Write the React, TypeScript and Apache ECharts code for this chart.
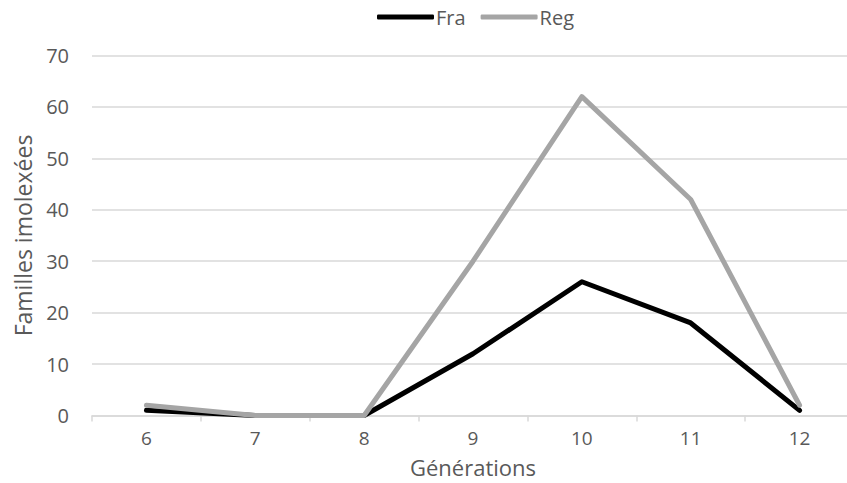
import React, { useEffect, useRef } from "react";
import * as echarts from "echarts";

const categories = ["6", "7", "8", "9", "10", "11", "12"];
const fraValues = [1, 0, 0, 12, 26, 18, 1];
const regValues = [2, 0, 0, 30, 62, 42, 2];
const seriesNames = ["Fra", "Reg"];
const xAxisTitle = "Générations";
const yAxisTitle = "Familles imolexées";

const FONT = "'Open Sans', 'Noto Sans', sans-serif";
const TEXT = "#595959";

export default function App() {
  const ref = useRef<HTMLDivElement>(null);
  useEffect(() => {
    if (!ref.current) return;
    const chart = echarts.init(ref.current, undefined, { renderer: "svg" });
    chart.setOption({
      animation: false,
      textStyle: { fontFamily: FONT },
      legend: {
        data: [
          { name: seriesNames[0], icon: "roundRect", itemStyle: { color: "#000000" } },
          { name: seriesNames[1], icon: "roundRect", itemStyle: { color: "#A5A5A5" } },
        ],
        top: 1,
        left: 372,
        itemWidth: 57,
        itemHeight: 5,
        itemGap: 15,
        textStyle: {
          color: TEXT,
          fontSize: 20,
          lineHeight: 22,
          fontFamily: FONT,
          padding: [0, 0, 0, -3],
        },
      },
      grid: {
        left: 92,
        top: 55.5,
        width: 762,
        height: 360,
        containLabel: false,
        outerBoundsMode: "none",
      },
      xAxis: {
        type: "category",
        data: categories,
        boundaryGap: true,
        name: xAxisTitle,
        nameLocation: "middle",
        nameGap: 40,
        nameTextStyle: { color: TEXT, fontSize: 22, lineHeight: 22, fontFamily: FONT },
        axisLine: { lineStyle: { color: "#D9D9D9", width: 1.5 } },
        axisTick: { show: true, length: 6, lineStyle: { color: "#D9D9D9", width: 1.5 } },
        axisLabel: { color: TEXT, fontSize: 19, lineHeight: 19, margin: 13, fontFamily: FONT },
      },
      yAxis: {
        type: "value",
        min: 0,
        max: 70,
        interval: 10,
        name: yAxisTitle,
        nameLocation: "middle",
        nameGap: 58,
        nameTextStyle: { color: TEXT, fontSize: 23, lineHeight: 23, fontFamily: FONT },
        axisLine: { show: false },
        axisTick: { show: false },
        splitLine: { lineStyle: { color: "#D9D9D9", width: 1.5 } },
        axisLabel: { color: TEXT, fontSize: 20, lineHeight: 20, margin: 23, fontFamily: FONT },
      },
      series: [
        {
          name: seriesNames[0],
          type: "line",
          data: fraValues,
          symbol: "none",
          lineStyle: { color: "#000000", width: 5, cap: "round", join: "round" },
          itemStyle: { color: "#000000" },
        },
        {
          name: seriesNames[1],
          type: "line",
          data: regValues,
          symbol: "none",
          lineStyle: { color: "#A5A5A5", width: 5, cap: "round", join: "round" },
          itemStyle: { color: "#A5A5A5" },
        },
      ],
    });
    return () => chart.dispose();
  }, []);
  return (
    <div
      ref={ref}
      style={{
        position: "fixed",
        left: 0,
        top: 0,
        width: 847,
        height: 483,
        overflow: "hidden",
        background: "#fff",
      }}
    />
  );
}
